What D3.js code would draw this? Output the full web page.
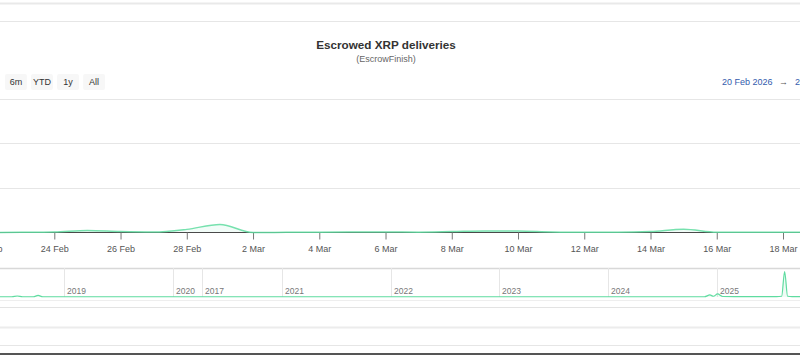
<!DOCTYPE html>
<html>
<head>
<meta charset="utf-8">
<script src="https://cdn.jsdelivr.net/npm/d3@7"></script>
<style>
  html, body { margin: 0; padding: 0; background: #fff; }
  svg { display: block; font-family: "Liberation Sans", Arial, sans-serif; }
</style>
</head>
<body>
<svg id="chart" width="800" height="355"></svg>
<script>
// ---------- data ----------
const title = "Escrowed XRP deliveries";
const subtitle = "(EscrowFinish)";
const rangeButtons = ["6m", "YTD", "1y", "All"];
const fromDate = "20 Feb 2026";
const toDate = "20 Mar 2026";

// main series (daily, units of one y grid step)
const mainDates = ["2026-02-18","2026-02-19","2026-02-20","2026-02-21","2026-02-22","2026-02-23","2026-02-24","2026-02-25",
  "2026-02-26","2026-02-27","2026-02-28","2026-03-01","2026-03-02","2026-03-03","2026-03-04","2026-03-05",
  "2026-03-06","2026-03-07","2026-03-08","2026-03-09","2026-03-10","2026-03-11","2026-03-12","2026-03-13",
  "2026-03-14","2026-03-15","2026-03-16","2026-03-17","2026-03-18","2026-03-19","2026-03-20","2026-03-21"];
const mainValues = [0, 0, 0, 0, 0, 0.004, 0.012, 0.045,
  0.02, 0.01, 0.07, 0.18, 0.0, 0.004, 0.008, 0.01,
  0.012, 0.008, 0.02, 0.035, 0.032, 0.012, 0.004, 0.004,
  0.02, 0.075, 0.008, 0.006, 0.004, 0.004, 0.003, 0.003];
const yTicks = [0, 1, 2, 3];
const xTickDates = ["2026-02-22","2026-02-24","2026-02-26","2026-02-28","2026-03-02","2026-03-04","2026-03-06",
  "2026-03-08","2026-03-10","2026-03-12","2026-03-14","2026-03-16","2026-03-18","2026-03-20"];

// navigator series
const navDates = ["2017-10-01","2018-03-01","2018-07-10","2018-07-28","2018-08-15","2018-09-20","2018-10-06","2018-10-22",
  "2018-12-01","2019-06-01","2020-06-01","2021-06-01","2022-06-01","2023-06-01","2024-06-01","2024-11-20",
  "2024-12-08","2024-12-20","2025-01-03","2025-01-20","2025-03-01","2025-07-20","2025-08-06","2025-08-16",
  "2025-08-26","2025-09-10","2026-01-01","2026-03-20"];
const navValues = [0.01, 0.01, 0.01, 0.04, 0.01, 0.01, 0.06, 0.01,
  0.01, 0.01, 0.01, 0.01, 0.01, 0.01, 0.01, 0.01,
  0.08, 0.03, 0.12, 0.02, 0.015, 0.015, 0.03, 1.0,
  0.03, 0.015, 0.015, 0.015];
const navTickLabels = ["2019", "2020", "2017", "2021", "2022", "2023", "2024", "2025"];
const navTickDates = ["2019-01-01", "2020-01-01", "2020-04-07", "2021-01-01", "2022-01-01", "2023-01-01", "2024-01-01", "2025-01-01"];

// ---------- drawing ----------
const parse = d3.utcParse("%Y-%m-%d");
const svg = d3.select("#chart");
const green = "#5fdca0";

// page frame lines
svg.append("rect").attr("x", 0).attr("y", 2.5).attr("width", 800).attr("height", 2).attr("fill", "#e9e9e9");
svg.append("line").attr("x1", 0).attr("x2", 800).attr("y1", 21.5).attr("y2", 21.5).attr("stroke", "#e6e6e6");

// title
svg.append("text").attr("x", 386).attr("y", 49).attr("text-anchor", "middle")
  .attr("font-size", "11.7px").attr("font-weight", "bold").attr("fill", "#333").text(title);
svg.append("text").attr("x", 386).attr("y", 61.5).attr("text-anchor", "middle")
  .attr("font-size", "9px").attr("fill", "#666").text(subtitle);

// range selector buttons
const btnX = d3.scaleBand().domain(rangeButtons).range([5, 105]).paddingInner(0.16).paddingOuter(0);
const btns = svg.append("g").selectAll("g").data(rangeButtons).join("g")
  .attr("transform", d => `translate(${btnX(d)},74)`);
btns.append("rect").attr("width", btnX.bandwidth()).attr("height", 16).attr("rx", 2).attr("fill", "#f7f7f7");
btns.append("text").attr("x", btnX.bandwidth() / 2).attr("y", 11.2).attr("text-anchor", "middle")
  .attr("font-size", "9px").attr("fill", "#333").text(d => d);

// date inputs
svg.append("text").attr("x", 722).attr("y", 85).attr("font-size", "9px").attr("fill", "#335cad").text(fromDate);
svg.append("text").attr("x", 779).attr("y", 85).attr("font-size", "9px").attr("fill", "#555").text("\u2192");
svg.append("text").attr("x", 795).attr("y", 85).attr("font-size", "9px").attr("fill", "#335cad").text(toDate);

// main plot scales
const x = d3.scaleUtc()
  .domain([parse("2026-02-24"), parse("2026-03-18")])
  .range([54.3, 783]);
const y = d3.scaleLinear().domain([0, 3]).range([232.5, 98.5]);

// gridlines
svg.append("g").selectAll("line").data(yTicks.filter(v => v > 0)).join("line")
  .attr("x1", 0).attr("x2", 800)
  .attr("y1", d => Math.round(y(d)) + 0.5).attr("y2", d => Math.round(y(d)) + 0.5)
  .attr("stroke", "#e6e6e6");

// series
const mainData = mainDates.map((d, i) => ({ date: parse(d), value: mainValues[i] }));
const area = d3.area().x(d => x(d.date)).y0(y(0)).y1(d => y(d.value)).curve(d3.curveMonotoneX);
const line = d3.line().x(d => x(d.date)).y(d => y(d.value)).curve(d3.curveMonotoneX);
svg.append("path").datum(mainData).attr("d", area).attr("fill", green).attr("fill-opacity", 0.08);

// x axis
const xAxis = d3.axisBottom(x)
  .tickValues(xTickDates.map(parse))
  .tickFormat(d3.utcFormat("%-d %b"))
  .tickSize(7).tickSizeOuter(0);
const gx = svg.append("g").attr("transform", `translate(0,${y(0)})`).call(xAxis);
gx.select(".domain").attr("stroke", "#4a4a4a").attr("d", "M-100,0H900");
gx.selectAll(".tick line").attr("stroke", "#777");
gx.selectAll(".tick text").attr("font-size", "9px").attr("fill", "#555").attr("dy", 0).attr("y", 19)
  .attr("font-family", "Liberation Sans, Arial, sans-serif");

svg.append("path").datum(mainData).attr("d", line).attr("fill", "none").attr("stroke", green)
  .attr("stroke-width", 1.5).attr("stroke-opacity", 0.85);

// navigator
const nx = d3.scaleUtc().domain([parse("2019-01-01"), parse("2025-01-01")]).range([64, 717]);
const ny = d3.scaleLinear().domain([0, 1.1]).range([297, 269]);
const navTop = 268, navBottom = 297;

svg.append("line").attr("x1", 0).attr("x2", 800).attr("y1", navTop + 0.5).attr("y2", navTop + 0.5)
  .attr("stroke", "#d8d8d8").attr("stroke-width", 1.5);
const navTicks = navTickDates.map((d, i) => ({ date: parse(d), label: navTickLabels[i] }));
const nt = svg.append("g").selectAll("g").data(navTicks).join("g")
  .attr("transform", d => `translate(${Math.round(nx(d.date)) + 0.5},0)`);
nt.append("line").attr("y1", navTop).attr("y2", navBottom).attr("stroke", "#e6e6e6");
nt.append("text").attr("x", 2.5).attr("y", 294).attr("font-size", "8.5px").attr("fill", "#777").text(d => d.label);

const navData = navDates.map((d, i) => ({ date: parse(d), value: navValues[i] }));
const narea = d3.area().x(d => nx(d.date)).y0(ny(0)).y1(d => ny(d.value)).curve(d3.curveMonotoneX);
const nline = d3.line().x(d => nx(d.date)).y(d => ny(d.value)).curve(d3.curveMonotoneX);
svg.append("path").datum(navData).attr("d", narea).attr("fill", green).attr("fill-opacity", 0.1);
svg.append("path").datum(navData).attr("d", nline).attr("fill", "none").attr("stroke", green).attr("stroke-width", 1.2);

svg.append("line").attr("x1", 0).attr("x2", 800).attr("y1", 300.5).attr("y2", 300.5).attr("stroke", "#eeeeee");

// page lines below
svg.append("line").attr("x1", 0).attr("x2", 800).attr("y1", 307.5).attr("y2", 307.5).attr("stroke", "#e3e3e3");
svg.append("rect").attr("x", 0).attr("y", 326.5).attr("width", 800).attr("height", 2).attr("fill", "#ececec");
svg.append("line").attr("x1", 0).attr("x2", 800).attr("y1", 345.5).attr("y2", 345.5).attr("stroke", "#e6e6e6");
svg.append("rect").attr("x", 0).attr("y", 353).attr("width", 800).attr("height", 2).attr("fill", "#555");
</script>
</body>
</html>
